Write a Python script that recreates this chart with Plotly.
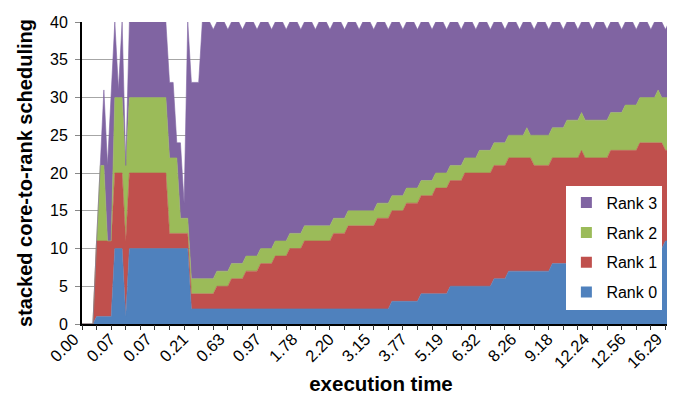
import plotly.graph_objects as go

# x tick labels (execution time), one every 10 samples
time_labels = ["0.00", "0.07", "0.07", "0.21", "0.63", "0.97", "1.78", "2.20", "3.15",
               "3.77", "5.19", "6.32", "8.26", "9.18", "12.24", "12.56", "16.29"]

rank0 = [0, 0, 0, 0, 1, 1, 1, 1, 1, 10,
         10, 10, 1, 10, 10, 10, 10, 10, 10, 10,
         10, 10, 10, 10, 10, 10, 10, 10, 10, 10,
         2, 2, 2, 2, 2, 2, 2, 2, 2, 2,
         2, 2, 2, 2, 2, 2, 2, 2, 2, 2,
         2, 2, 2, 2, 2, 2, 2, 2, 2, 2,
         2, 2, 2, 2, 2, 2, 2, 2, 2, 2,
         2, 2, 2, 2, 2, 2, 2, 2, 2, 2,
         2, 2, 2, 2, 2, 3, 3, 3, 3, 3,
         3, 3, 3, 4, 4, 4, 4, 4, 4, 4,
         4, 5, 5, 5, 5, 5, 5, 5, 5, 5,
         5, 5, 5, 6, 6, 6, 6, 7, 7, 7,
         7, 7, 7, 7, 7, 7, 7, 7, 7, 8,
         8, 8, 8, 8, 8, 8, 8, 9, 8, 8,
         8, 8, 8, 8, 8, 9, 9, 9, 9, 9,
         9, 9, 9, 10, 10, 10, 10, 10, 10, 10,
         11, 11, 11, 11, 11]

rank1 = [0, 0, 0, 0, 10, 10, 10, 10, 10, 10,
         10, 10, 10, 10, 10, 10, 10, 10, 10, 10,
         10, 10, 10, 10, 2, 2, 2, 2, 2, 2,
         2, 2, 2, 2, 2, 2, 2, 3, 3, 3,
         3, 4, 4, 4, 4, 5, 5, 5, 5, 6,
         6, 6, 6, 7, 7, 7, 7, 8, 8, 8,
         8, 9, 9, 9, 9, 9, 9, 9, 9, 10,
         10, 10, 10, 11, 11, 11, 11, 11, 11, 11,
         11, 12, 12, 12, 12, 12, 12, 12, 12, 13,
         13, 13, 13, 13, 13, 13, 13, 14, 14, 14,
         14, 14, 14, 14, 14, 15, 15, 15, 15, 15,
         15, 15, 15, 15, 15, 15, 15, 15, 15, 15,
         15, 15, 15, 15, 14, 14, 14, 14, 14, 14,
         14, 14, 14, 14, 14, 14, 14, 14, 14, 14,
         14, 14, 14, 14, 14, 14, 14, 14, 14, 14,
         14, 14, 14, 14, 14, 14, 14, 14, 14, 14,
         12, 12, 12, 12, 12]

rank2 = [0, 0, 0, 0, 0, 10, 10, 0, 0, 10,
         10, 10, 10, 10, 10, 10, 10, 10, 10, 10,
         10, 10, 10, 10, 10, 10, 10, 2, 2, 2,
         2, 2, 2, 2, 2, 2, 2, 2, 2, 2,
         2, 2, 2, 2, 2, 2, 2, 2, 2, 2,
         2, 2, 2, 2, 2, 2, 2, 2, 2, 2,
         2, 2, 2, 2, 2, 2, 2, 2, 2, 2,
         2, 2, 2, 2, 2, 2, 2, 2, 2, 2,
         2, 2, 2, 2, 2, 2, 2, 2, 2, 2,
         2, 2, 2, 2, 2, 2, 2, 2, 2, 2,
         2, 2, 2, 2, 2, 2, 2, 2, 2, 3,
         3, 3, 3, 3, 3, 3, 3, 3, 3, 3,
         3, 3, 4, 3, 4, 4, 4, 4, 4, 4,
         4, 4, 4, 5, 5, 5, 5, 5, 5, 5,
         5, 5, 5, 5, 5, 5, 5, 5, 5, 6,
         6, 6, 6, 6, 6, 6, 6, 6, 7, 6,
         7, 7, 7, 7, 7]

rank3 = [0, 0, 0, 0, 0, 0, 10, 10, 19, 10,
         1, 10, 0, 10, 10, 10, 10, 10, 10, 10,
         10, 10, 10, 10, 10, 10, 2, 10, 2, 26,
         26, 26, 26, 34, 34, 34, 33, 33, 33, 33,
         32, 32, 32, 32, 31, 31, 31, 31, 30, 30,
         30, 30, 29, 29, 29, 29, 28, 28, 28, 28,
         27, 27, 27, 27, 26, 27, 27, 27, 26, 26,
         26, 26, 25, 25, 25, 25, 24, 25, 25, 25,
         24, 24, 24, 24, 23, 23, 23, 23, 22, 22,
         22, 22, 21, 21, 21, 21, 20, 20, 20, 20,
         19, 19, 19, 19, 18, 18, 18, 18, 17, 17,
         17, 17, 16, 16, 16, 16, 15, 15, 15, 15,
         14, 15, 14, 15, 14, 15, 15, 15, 14, 14,
         14, 14, 13, 13, 13, 13, 12, 12, 13, 13,
         12, 13, 13, 13, 12, 12, 12, 12, 11, 11,
         11, 11, 10, 10, 10, 10, 9, 10, 9, 10,
         9, 10, 10, 10, 9]

series = [("Rank 0", rank0, "#4F81BD"),
          ("Rank 1", rank1, "#C0504D"),
          ("Rank 2", rank2, "#9BBB59"),
          ("Rank 3", rank3, "#8064A2")]

n = len(rank0)
sample = list(range(n))
label_pos = sample[::10]
tick_pos = sample[::4]

FONT = "Liberation Sans, Arial, sans-serif"
fig = go.Figure()
for name, vals, col in series:
    fig.add_trace(go.Scatter(
        x=sample, y=vals, name=name, stackgroup="one", mode="lines",
        line=dict(width=0.6, color=col), fillcolor=col, showlegend=False,
        hoverinfo="skip"))
# legend entries with square swatches (Rank 3 on top)
for name, vals, col in reversed(series):
    fig.add_trace(go.Scatter(
        x=[None], y=[None], mode="markers", name=name, legendgroup=name,
        marker=dict(symbol="square", size=11, color=col)))
# overlay axis for tick marks every 4 samples
fig.add_trace(go.Scatter(x=[0, n - 1], y=[0, 0], xaxis="x2", mode="none",
                         showlegend=False, hoverinfo="skip"))

fig.update_layout(
    width=675, height=397,
    margin=dict(l=74, r=3, t=14, b=81),
    paper_bgcolor="white", plot_bgcolor="white",
    font=dict(family=FONT, size=16, color="#000"),
    showlegend=True,
    legend=dict(x=0.81, y=0.458, xanchor="left", yanchor="top",
                bgcolor="white", font=dict(size=16, family=FONT),
                traceorder="grouped", tracegroupgap=6),
    xaxis=dict(range=[0, n - 1], tickmode="array", tickvals=label_pos,
               ticktext=time_labels, tickangle=-45, ticks="",
               tickfont=dict(size=16.5, family=FONT),
               ticklabelstandoff=-3, ticklabelshift=-8,
               showline=True, linecolor="#000", linewidth=2, showgrid=False,
               zeroline=False,
               title=dict(text="<b>execution time</b>", font=dict(size=20.5, family=FONT),
                          standoff=6)),
    xaxis2=dict(range=[0, n - 1], overlaying="x", side="bottom", anchor="y",
                tickmode="array", tickvals=tick_pos, ticks="outside", ticklen=5,
                tickwidth=1.2, tickcolor="#333", showticklabels=False,
                showline=False, showgrid=False, zeroline=False),
    yaxis=dict(range=[0, 40], dtick=5, tick0=0, ticks="outside", ticklen=5,
               tickcolor="#888", showline=True, linecolor="#000", linewidth=2,
               showgrid=True, gridcolor="#A6A6A6", gridwidth=1, zeroline=False,
               tickfont=dict(size=16, family=FONT), ticklabelstandoff=4,
               title=dict(text="<b>stacked core-to-rank scheduling</b>",
                          font=dict(size=20, family=FONT), standoff=12)),
)

fig.write_html("out.html")
